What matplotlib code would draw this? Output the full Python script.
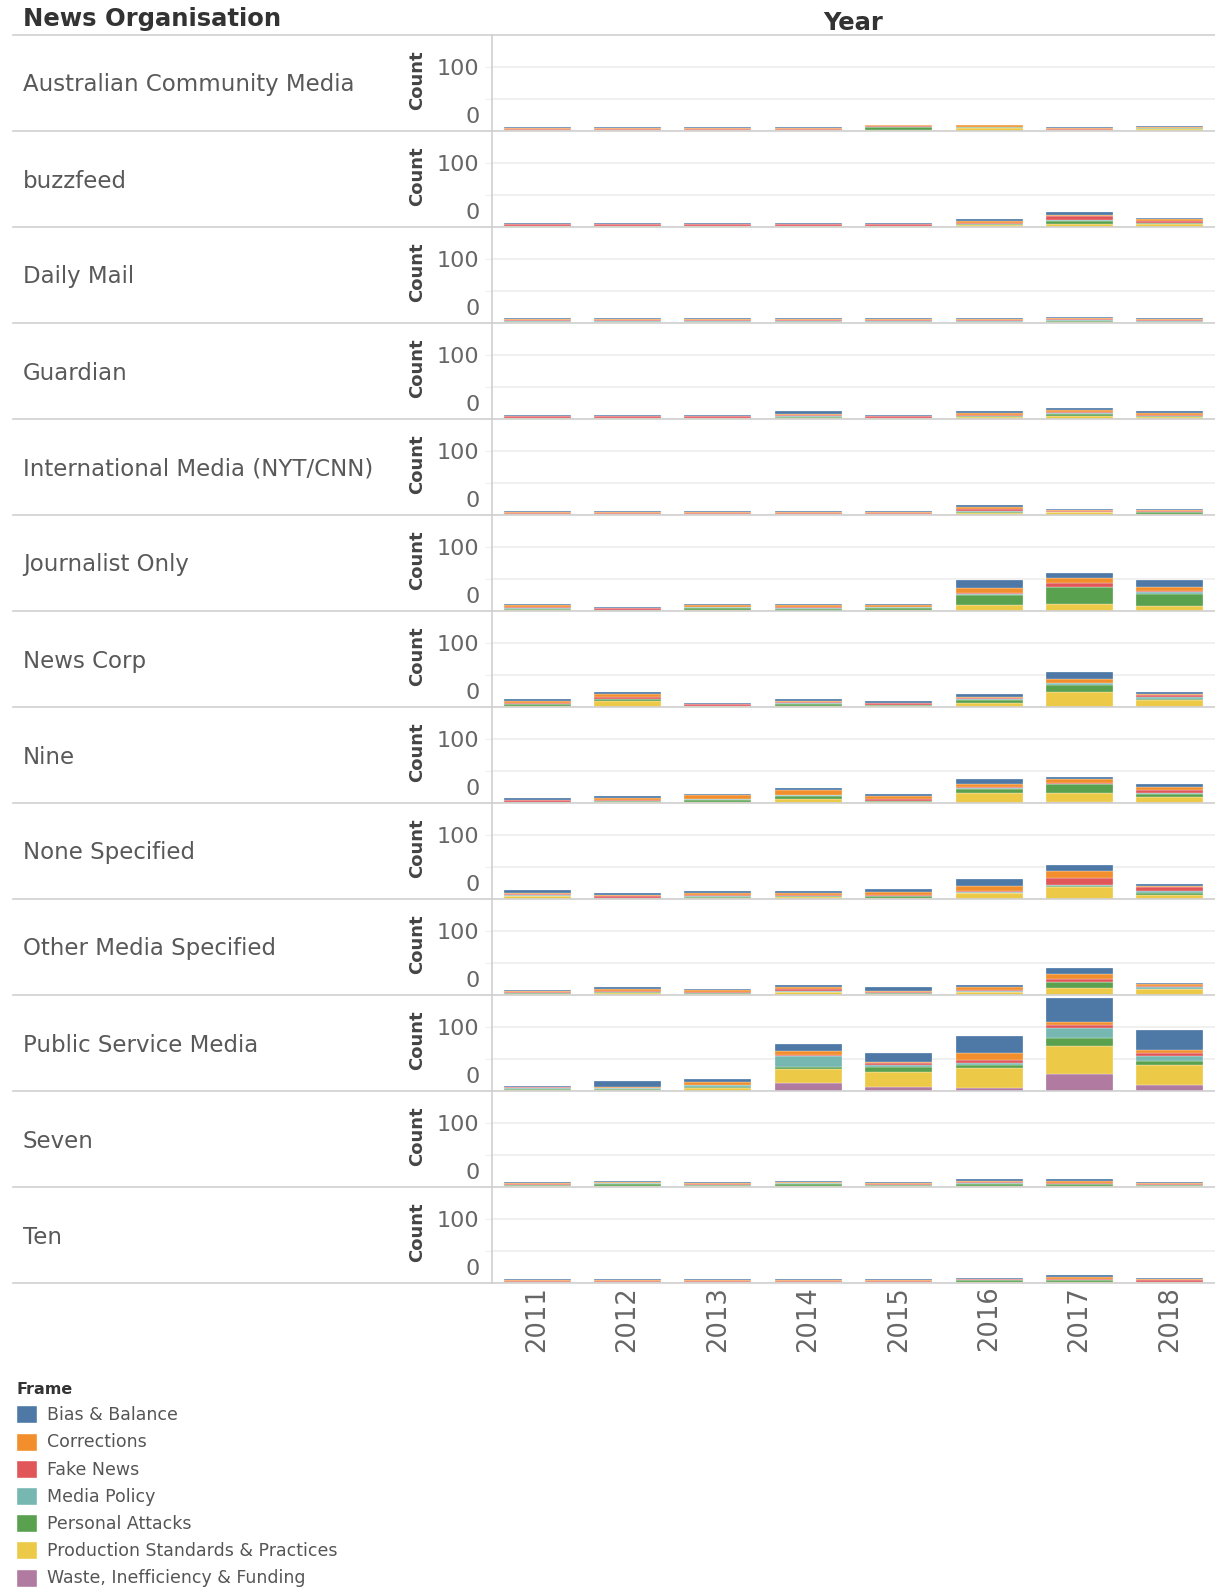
import matplotlib

matplotlib.use("Agg")
import matplotlib.pyplot as plt
import matplotlib.transforms as mtransforms
import numpy as np
from matplotlib.lines import Line2D
from matplotlib.patches import Patch

W, H = 1215, 1587

years = ["2011", "2012", "2013", "2014", "2015", "2016", "2017", "2018"]
orgs = [
    "Australian Community Media", "buzzfeed", "Daily Mail", "Guardian",
    "International Media (NYT/CNN)", "Journalist Only", "News Corp", "Nine",
    "None Specified", "Other Media Specified", "Public Service Media", "Seven", "Ten",
]
frames = [
    "Bias & Balance", "Corrections", "Fake News", "Media Policy",
    "Personal Attacks", "Production Standards & Practices", "Waste, Inefficiency & Funding",
]
frame_colors = ["#4e79a7", "#f28e2b", "#e15759", "#76b7b2", "#59a14f", "#edc948", "#b07aa1"]

# counts per organisation (rows) and year (columns)
bias = [
    [2, 2, 2, 2, 1, 1, 2, 1],
    [2, 2, 2, 2, 2, 2, 5, 2],
    [2, 2, 2, 2, 2, 2, 2, 2],
    [2, 2, 2, 4, 2, 2, 3, 2],
    [2, 2, 2, 2, 2, 3, 2, 2],
    [2, 2, 2, 2, 2, 12, 9, 11],
    [2, 3, 2, 2, 3, 4, 12, 4],
    [3, 3, 2, 3, 3, 9, 3, 4],
    [5, 4, 3, 2, 5, 12, 9, 2],
    [2, 2, 2, 2, 5, 4, 9, 2],
    [1, 10, 5, 11, 14, 27, 37, 32],
    [2, 2, 2, 2, 2, 3, 2, 2],
    [2, 2, 2, 2, 2, 1, 2, 2],
]
corrections = [
    [1, 1, 1, 1, 1, 2, 1, 2],
    [1, 1, 1, 1, 1, 3, 1, 3],
    [1, 1, 1, 1, 1, 1, 2, 1],
    [1, 1, 1, 2, 1, 3, 3, 3],
    [1, 1, 1, 1, 1, 3, 2, 2],
    [3, 1, 3, 3, 2, 8, 8, 5],
    [3, 5, 0, 2, 1, 2, 6, 2],
    [1, 3, 5, 7, 5, 4, 5, 4],
    [1, 1, 3, 3, 4, 7, 11, 3],
    [1, 4, 3, 4, 2, 4, 8, 3],
    [1, 1, 4, 6, 2, 11, 5, 4],
    [1, 1, 1, 1, 1, 2, 3, 1],
    [1, 1, 1, 1, 1, 1, 3, 2],
]
fake_news = [
    [1, 1, 1, 1, 1, 1, 1, 1],
    [2, 2, 2, 2, 2, 2, 6, 2],
    [2, 2, 2, 2, 2, 2, 2, 2],
    [2, 2, 2, 2, 2, 2, 2, 2],
    [1, 1, 1, 1, 1, 3, 1, 2],
    [2, 2, 0, 1, 1, 1, 6, 3],
    [2, 2, 3, 1, 3, 2, 0, 3],
    [2, 2, 1, 1, 3, 2, 2, 6],
    [2, 3, 2, 3, 3, 2, 11, 6],
    [2, 2, 2, 3, 2, 1, 5, 2],
    [1, 1, 1, 1, 2, 4, 5, 5],
    [2, 1, 2, 1, 2, 2, 2, 2],
    [1, 1, 1, 1, 1, 1, 3, 2],
]
media_policy = [
    [0, 0, 0, 0, 1, 0, 0, 0],
    [0, 0, 0, 0, 0, 0, 1, 0],
    [1, 1, 1, 1, 1, 1, 1, 1],
    [0, 0, 0, 1, 0, 0, 1, 0],
    [0, 0, 0, 0, 0, 1, 0, 0],
    [1, 0, 2, 2, 2, 2, 0, 2],
    [1, 0, 0, 2, 0, 1, 2, 2],
    [0, 0, 2, 1, 0, 1, 1, 1],
    [1, 0, 1, 0, 0, 1, 2, 2],
    [0, 0, 0, 1, 0, 2, 0, 2],
    [2, 1, 2, 17, 4, 4, 15, 8],
    [0, 2, 0, 2, 0, 2, 1, 0],
    [0, 0, 0, 0, 0, 1, 0, 0],
]
personal_attacks = [
    [1, 1, 1, 1, 5, 1, 1, 1],
    [1, 1, 1, 1, 1, 2, 6, 2],
    [1, 1, 1, 1, 1, 1, 1, 1],
    [1, 1, 1, 1, 1, 2, 3, 2],
    [1, 1, 1, 1, 1, 2, 1, 2],
    [2, 2, 2, 3, 2, 15, 26, 19],
    [2, 4, 1, 3, 2, 4, 11, 2],
    [2, 2, 2, 5, 2, 6, 13, 4],
    [0, 2, 1, 1, 2, 1, 2, 3],
    [2, 1, 2, 1, 2, 1, 9, 0],
    [1, 1, 2, 4, 8, 4, 12, 7],
    [2, 2, 2, 2, 2, 2, 2, 2],
    [1, 1, 1, 1, 1, 2, 2, 1],
]
production = [
    [1, 1, 1, 1, 1, 5, 1, 3],
    [1, 1, 1, 1, 1, 3, 4, 5],
    [1, 1, 1, 1, 1, 1, 2, 1],
    [1, 1, 1, 2, 1, 3, 5, 3],
    [1, 1, 1, 1, 1, 3, 4, 2],
    [1, 0, 2, 0, 2, 10, 11, 8],
    [2, 9, 1, 2, 1, 7, 24, 11],
    [0, 1, 2, 6, 1, 16, 14, 10],
    [5, 0, 2, 3, 2, 9, 18, 7],
    [1, 3, 1, 4, 1, 4, 11, 10],
    [2, 2, 5, 22, 23, 32, 44, 30],
    [1, 2, 1, 2, 1, 2, 2, 1],
    [1, 1, 1, 1, 1, 2, 2, 1],
]
waste = [
    [0, 0, 0, 0, 0, 0, 0, 0],
    [0, 0, 0, 0, 0, 0, 0, 0],
    [0, 0, 0, 0, 0, 0, 0, 0],
    [0, 0, 0, 0, 0, 0, 0, 0],
    [0, 0, 0, 0, 0, 0, 0, 0],
    [0, 0, 0, 0, 0, 0, 0, 0],
    [0, 0, 0, 0, 0, 0, 0, 0],
    [0, 0, 0, 0, 0, 0, 2, 0],
    [0, 0, 0, 0, 0, 0, 0, 0],
    [0, 0, 0, 0, 0, 0, 0, 0],
    [0, 0, 0, 12, 6, 4, 27, 10],
    [0, 0, 0, 0, 0, 0, 0, 0],
    [0, 0, 0, 0, 0, 0, 0, 0],
]

# stacking order bottom -> top
stack = [waste, production, personal_attacks, media_policy, fake_news, corrections, bias]
stack_colors = frame_colors[::-1]

fig = plt.figure(figsize=(W / 100, H / 100), dpi=100)


def fx(px):
    return px / W


def fy(py):
    return 1 - py / H


top0, row_h, plot_left = 35, 96, 492
line_c = "#d0d0d0"
x = np.arange(len(years))
zero_shift = mtransforms.ScaledTranslation(0, 4 / 100, fig.dpi_scale_trans)

for i, org in enumerate(orgs):
    top = top0 + row_h * i
    ax = fig.add_axes([fx(plot_left), fy(top + row_h), 1 - fx(plot_left), row_h / H])
    bottom = np.zeros(len(years))
    for vals, c in zip(stack, stack_colors):
        v = np.array(vals[i], dtype=float)
        ax.bar(x, v, 0.74, bottom=bottom, color=c, edgecolor="white", linewidth=0.2, zorder=3)
        bottom += v
    ax.set_xlim(-0.5, 7.5)
    ax.set_ylim(0, 150)
    ax.set_yticks([0, 50, 100])
    ax.set_yticklabels(["0", "", "100"])
    ax.grid(axis="y", color="#eeeeee", lw=1.2, zorder=0)
    for s in ["top", "right", "bottom"]:
        ax.spines[s].set_visible(False)
    ax.spines["left"].set_color(line_c)
    ax.spines["left"].set_linewidth(1.2)
    ax.tick_params(axis="y", length=5, color="#eeeeee", labelsize=16, labelcolor="#666666", pad=4)
    lab0 = ax.get_yticklabels()[0]
    lab0.set_va("bottom")
    lab0.set_transform(lab0.get_transform() + zero_shift)
    ax.set_xticks(x)
    if i == len(orgs) - 1:
        ax.set_xticklabels(years, rotation=90, fontsize=18.5, color="#666666")
        ax.tick_params(axis="x", length=0, pad=2)
    else:
        ax.tick_params(axis="x", length=0, labelbottom=False)

    fig.text(fx(23), fy(top + 50), org, fontsize=16.5, color="#595959", va="center", ha="left")
    fig.text(fx(417), fy(top + 45), "Count", fontsize=13, fontweight="bold", color="#444444",
             rotation=90, va="center", ha="center")
    fig.add_artist(Line2D([fx(13), 1], [fy(top + row_h)] * 2, transform=fig.transFigure,
                          color=line_c, lw=1.2))

fig.add_artist(Line2D([fx(13), 1], [fy(top0)] * 2, transform=fig.transFigure, color=line_c, lw=1.2))
fig.text(fx(23), fy(19), "News Organisation", fontsize=17.5, fontweight="bold", color="#333333",
         va="center", ha="left")
fig.text(fx(853), fy(23), "Year", fontsize=17.5, fontweight="bold", color="#333333",
         va="center", ha="center")

handles = [Patch(facecolor=c, edgecolor="white", label=f) for f, c in zip(frames, frame_colors)]
leg = fig.legend(handles=handles, loc="upper left", bbox_to_anchor=(fx(16), fy(1382)),
                 frameon=False, title="Frame", alignment="left", fontsize=12.5,
                 handlelength=1.22, handleheight=1.22, handletextpad=0.55, labelspacing=0.48,
                 borderpad=0, borderaxespad=0)
leg.get_title().set_fontsize(11.5)
leg.get_title().set_fontweight("bold")
leg.get_title().set_color("#333333")
for t in leg.get_texts():
    t.set_color("#555555")

fig.savefig("out.png", dpi=100)
